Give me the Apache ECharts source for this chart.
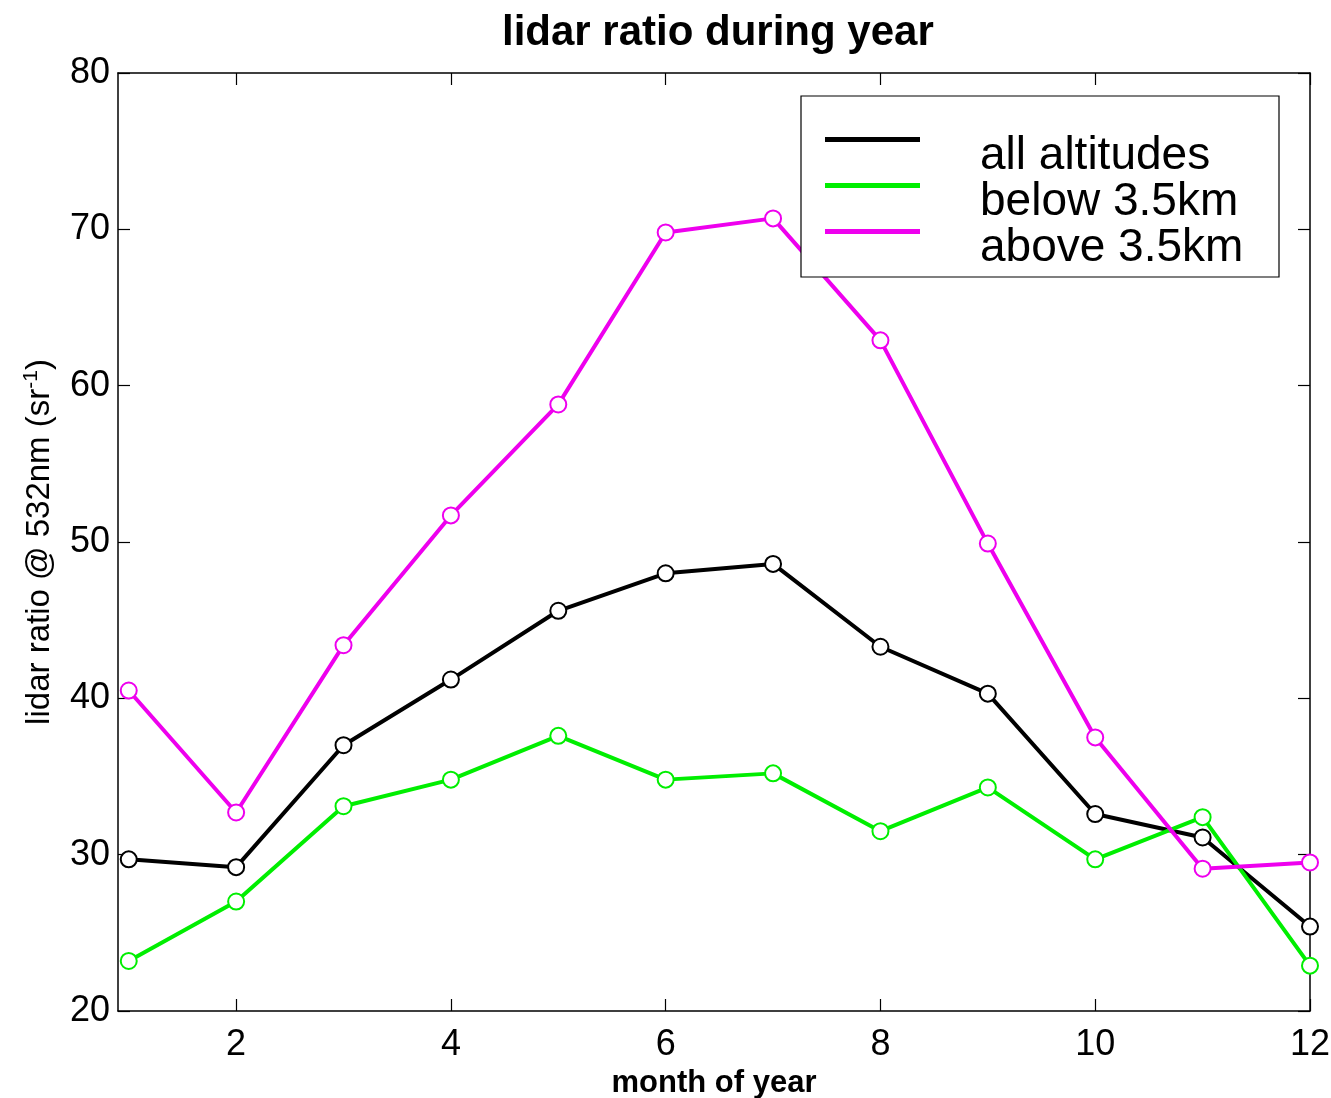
<!DOCTYPE html>
<html>
<head>
<meta charset="utf-8">
<title>lidar ratio during year</title>
<script src="https://cdn.jsdelivr.net/npm/echarts@6/dist/echarts.min.js"></script>
<style>
  html, body { margin: 0; padding: 0; background: #ffffff; }
  #chart { width: 1331px; height: 1098px; }
</style>
</head>
<body>
<div id="chart"></div>
<script>
// Monthly mean lidar ratio at 532 nm (sr^-1)
const months = [1, 2, 3, 4, 5, 6, 7, 8, 9, 10, 11, 12];
const allAltitudes = [29.7, 29.2, 37.0, 41.2, 45.6, 48.0, 48.6, 43.3, 40.3, 32.6, 31.1, 25.4];
const below35km = [23.2, 27.0, 33.1, 34.8, 37.6, 34.8, 35.2, 31.5, 34.3, 29.7, 32.4, 22.9];
const above35km = [40.5, 32.7, 43.4, 51.7, 58.8, 69.8, 70.7, 62.9, 49.9, 37.5, 29.1, 29.5];
const seriesNames = ['all altitudes', 'below 3.5km', 'above 3.5km'];
const monthTicks = [2, 4, 6, 8, 10, 12];

const FONT = '"Liberation Sans", Arial, Helvetica, sans-serif';

// Legend key: a short bar at the top of a taller (otherwise empty) icon box,
// so the label sits slightly below the sample line.
const LEGEND_ICON = 'path://M0,0L95,0L95,5L0,5Z M0,38L0.01,38';

function pairs(values) {
  return months.map((m, i) => [m, values[i]]);
}

function lineSeries(name, values, color) {
  return {
    name: name,
    type: 'line',
    data: pairs(values),
    symbol: 'emptyCircle',
    symbolSize: 16,
    showAllSymbol: true,
    lineStyle: { color: color, width: 4 },
    itemStyle: { color: color, borderColor: color, borderWidth: 3.5 },
    emphasis: { disabled: true },
    animation: false
  };
}

const axisLine = { show: true, onZero: false, lineStyle: { color: '#000', width: 1.5 } };
const inTick = { show: true, inside: true, length: 12, lineStyle: { color: '#000', width: 1.2 } };

const chart = echarts.init(document.getElementById('chart'), null, { renderer: 'canvas' });
chart.setOption({
  backgroundColor: '#ffffff',
  animation: false,
  title: {
    text: 'lidar ratio during year',
    left: 497,
    top: 7,
    textStyle: { fontFamily: FONT, fontWeight: 'bold', fontSize: 42, color: '#000' }
  },
  grid: { left: 118, right: 21, top: 73, bottom: 87, containLabel: false, outerBoundsMode: 'none' },
  legend: {
    orient: 'vertical',
    left: 801,
    top: 96,
    data: seriesNames,
    icon: LEGEND_ICON,
    itemWidth: 95,
    itemHeight: 38,
    itemGap: 0,
    padding: [37, 16, 6, 24],
    backgroundColor: '#ffffff',
    borderColor: '#000',
    borderWidth: 1.2,
    borderRadius: 0,
    selectedMode: false,
    itemStyle: { borderWidth: 0 },
    textStyle: {
      fontFamily: FONT,
      fontSize: 46,
      color: '#000',
      lineHeight: 46,
      width: 283,
      padding: [0, 0, 0, 55]
    }
  },
  xAxis: [
    {
      type: 'value',
      position: 'bottom',
      min: 0.9,
      max: 12,
      name: 'month of year',
      nameLocation: 'middle',
      nameGap: 55,
      nameTextStyle: { fontFamily: FONT, fontWeight: 'bold', fontSize: 31, color: '#000' },
      axisLine: axisLine,
      axisTick: Object.assign({}, inTick, { customValues: monthTicks }),
      axisLabel: {
        customValues: monthTicks,
        fontFamily: FONT, fontSize: 36, color: '#000', margin: 16
      },
      splitLine: { show: false }
    },
    {
      type: 'value',
      position: 'top',
      min: 0.9,
      max: 12,
      axisLine: axisLine,
      axisTick: Object.assign({}, inTick, { customValues: monthTicks }),
      axisLabel: { show: false },
      splitLine: { show: false }
    }
  ],
  yAxis: [
    {
      type: 'value',
      position: 'left',
      min: 20,
      max: 80,
      interval: 10,
      name: '{a|lidar ratio @ 532nm (sr}{s|-1}{a|)}',
      nameLocation: 'middle',
      nameRotate: 90,
      nameGap: 60,
      nameTextStyle: {
        color: '#000',
        rich: {
          a: { fontFamily: FONT, fontSize: 33, color: '#000' },
          s: { fontFamily: FONT, fontSize: 21, color: '#000', verticalAlign: 'top', padding: [0, 0, 16, 0] }
        }
      },
      axisLine: axisLine,
      axisTick: inTick,
      axisLabel: { fontFamily: FONT, fontSize: 36, color: '#000', margin: 8 },
      splitLine: { show: false }
    },
    {
      type: 'value',
      position: 'right',
      min: 20,
      max: 80,
      interval: 10,
      axisLine: axisLine,
      axisTick: inTick,
      axisLabel: { show: false },
      splitLine: { show: false }
    }
  ],
  series: [
    lineSeries(seriesNames[0], allAltitudes, '#000000'),
    lineSeries(seriesNames[1], below35km, '#00ee00'),
    lineSeries(seriesNames[2], above35km, '#ee00ee')
  ]
});
</script>
</body>
</html>
